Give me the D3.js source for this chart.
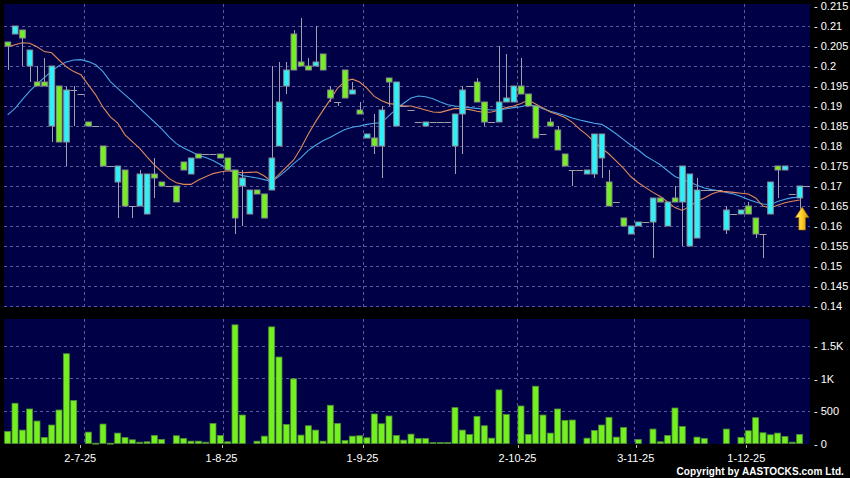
<!DOCTYPE html>
<html><head><meta charset="utf-8">
<script src="https://cdn.jsdelivr.net/npm/d3@7/dist/d3.min.js"></script>
<style>html,body{margin:0;padding:0;background:#000;}svg{display:block;}</style>
</head><body>
<script>
// ---- DATA ----
const opens  = [.206,.208,.209,.200,.196,.196,.185,.195,.181,.194,.193,.186,.185,.180,.175,.171,.174,.165,.165,.163,
 .173,.171,.170,.170,.176,.173,.178,.178,.178,.178,.177,.174,.170,.163,.169,.168,.169,.180,.195,.208,
 .201,.200,.200,.203,.194,.191,.199,.193,.189,.182,.182,.180,.197,.185,.190,.189,.186,.185,.186,.186,
 .186,.180,.188,.195,.196,.191,.186,.186,.191,.191,.195,.193,.190,.183,.186,.184,.178,.174,.174,.173,
 .173,.177,.171,.166,.162,.158,.160,.161,.161,.167,.160,.167,.166,.155,.157,.169,.169,.169,.159,.163,
 .163,.165,.162,.158,.163,.175,.174,.168,.167];
const highs  = [.206,.210,.209,.204,.200,.202,.200,.195,.195,.195,.193,.186,.185,.180,.175,.175,.174,.165,.174,.173,
 .177,.171,.170,.170,.176,.177,.178,.178,.178,.178,.177,.174,.174,.169,.169,.168,.200,.201,.201,.209,
 .212,.202,.210,.203,.195,.191,.199,.196,.191,.183,.188,.190,.197,.196,.190,.189,.186,.186,.186,.186,
 .186,.188,.195,.195,.197,.191,.186,.205,.203,.195,.202,.193,.190,.183,.187,.185,.178,.174,.174,.174,
 .183,.183,.174,.166,.162,.160,.161,.161,.167,.167,.166,.170,.175,.173,.172,.169,.169,.169,.165,.163,
 .164,.166,.162,.158,.171,.175,.175,.168,.170];
const lows   = [.199,.208,.200,.196,.195,.195,.181,.181,.175,.185,.193,.185,.185,.175,.175,.162,.165,.162,.165,.163,
 .167,.170,.170,.166,.174,.173,.177,.178,.178,.177,.174,.158,.160,.163,.168,.162,.169,.180,.193,.199,
 .200,.199,.200,.199,.191,.190,.192,.193,.188,.182,.178,.172,.190,.185,.190,.189,.186,.185,.186,.186,
 .186,.173,.178,.195,.191,.185,.186,.186,.191,.191,.193,.190,.182,.183,.185,.179,.175,.170,.174,.173,
 .172,.172,.165,.166,.160,.158,.160,.161,.152,.166,.160,.166,.155,.155,.157,.169,.169,.169,.158,.163,
 .163,.163,.157,.152,.163,.167,.174,.168,.164];
const closes = [.205,.210,.207,.204,.195,.195,.200,.181,.194,.194,.193,.185,.185,.175,.175,.175,.165,.165,.173,.173,
 .172,.170,.170,.166,.174,.177,.177,.178,.178,.177,.174,.162,.172,.169,.168,.162,.177,.191,.199,.199,
 .200,.199,.201,.199,.192,.191,.192,.194,.188,.183,.180,.189,.196,.196,.190,.189,.186,.186,.186,.186,
 .186,.188,.194,.195,.191,.186,.186,.191,.192,.195,.193,.190,.182,.183,.185,.179,.175,.174,.174,.174,
 .183,.183,.165,.166,.160,.160,.161,.161,.167,.166,.166,.166,.175,.173,.169,.169,.169,.169,.164,.163,
 .164,.163,.158,.158,.171,.174,.175,.168,.170];
const volumes = [186,619,206,531,345,93,284,515,1381,660,0,175,5,299,5,160,93,57,20,26,
 124,62,0,119,77,36,36,20,309,124,26,1825,438,0,36,113,1794,1330,294,995,
 129,273,206,36,588,309,46,113,119,88,454,304,423,124,52,144,77,77,15,15,
 15,552,206,139,418,273,82,825,448,0,577,139,881,438,160,531,356,361,0,82,
 201,284,402,98,247,0,62,0,222,26,124,546,263,0,98,77,0,0,222,0,
 93,196,397,165,134,160,108,20,139];
const maShort = [.2048,.2053,.2058,.2057,.2048,.2036,.2033,.2015,.1998,.1986,.1978,.1953,.1928,.1897,.1873,.1857,.1828,.1811,.1794,.1773,
 .1753,.1736,.1719,.1708,.1704,.1704,.1715,.1723,.1731,.1735,.1738,.1736,.1733,.1734,.1735,.1725,.1711,.1729,.1747,.1765,
 .1795,.1830,.1861,.1889,.1916,.1945,.1962,.1967,.1960,.1944,.1924,.1913,.1906,.1904,.1900,.1900,.1895,.1890,.1885,.1884,
 .1889,.1894,.1893,.1891,.1887,.1884,.1885,.1890,.1896,.1900,.1906,.1915,.1905,.1895,.1885,.1879,.1871,.1859,.1842,.1828,
 .1810,.1795,.1780,.1762,.1744,.1723,.1708,.1696,.1684,.1674,.1660,.1646,.1639,.1649,.1662,.1670,.1680,.1686,.1686,.1684,
 .1682,.1680,.1670,.1650,.1645,.1652,.1658,.1662,.1665];
const maLong = [.1878,.1894,.1916,.1937,.1955,.1971,.1987,.2001,.2010,.2015,.2016,.2011,.2003,.1986,.1961,.1944,.1928,.1912,.1894,.1877,
 .1860,.1843,.1823,.1806,.1795,.1786,.1777,.1771,.1764,.1754,.1744,.1734,.1726,.1723,.1720,.1716,.1711,.1724,.1739,.1756,
 .1771,.1789,.1802,.1813,.1822,.1832,.1841,.1847,.1850,.1854,.1857,.1858,.1876,.1892,.1907,.1920,.1925,.1923,.1918,.1910,
 .1903,.1900,.1898,.1896,.1894,.1892,.1890,.1890,.1893,.1896,.1898,.1903,.1900,.1893,.1887,.1882,.1876,.1870,.1865,.1861,
 .1857,.1854,.1843,.1830,.1816,.1802,.1790,.1775,.1764,.1753,.1738,.1724,.1716,.1710,.1702,.1695,.1691,.1688,.1684,.1680,
 .1674,.1666,.1660,.1655,.1653,.1661,.1667,.1671,.1672];
const monthLabels = ["2-7-25","1-8-25","1-9-25","2-10-25","3-11-25","1-12-25"];
const monthGridIdx  = [10.45,29.32,48.5,69.4,85.48,100.45];
const monthLabelIdx = [9.9,29.16,48.39,69.53,85.66,100.73];
const priceTicks = [0.14,0.145,0.15,0.155,0.16,0.165,0.17,0.175,0.18,0.185,0.19,0.195,0.2,0.205,0.21,0.215];
const priceTickLabels = ["0.14","0.145","0.15","0.155","0.16","0.165","0.17","0.175","0.18","0.185","0.19","0.195","0.2","0.205","0.21","0.215"];
const volTicks = [0,500,1000,1500];
const volTickLabels = ["0","500","1K","1.5K"];

// ---- LAYOUT ----
const W = 850, H = 478;
const plotL = 4, plotR = 810;
const pTop = 4, pBot = 307;
const vTop = 319, vBot = 444;
const NAVY = "#000046", GRID = "#5a5a9e";
const CYAN = "#2ef0f8", LIME = "#74f01e", WICK = "#a0a0a8", EDGE = "#8c8c94";
const FONT = "'Liberation Sans', Arial, sans-serif";

const svg = d3.select("body").append("svg").attr("width", W).attr("height", H)
  .style("background", "#000");

const n = closes.length;
const x = d3.scaleLinear().domain([0, n - 1]).range([7.67, 7.67 + 7.333 * (n - 1)]);
const y = d3.scaleLinear().domain([0.14, 0.215]).range([306, 6]);
const yv = d3.scaleLinear().domain([0, 1915]).range([443.5, 319]);

// panels
svg.append("rect").attr("x", plotL).attr("y", pTop).attr("width", plotR - plotL).attr("height", pBot - pTop).attr("fill", NAVY);
svg.append("rect").attr("x", plotL).attr("y", vTop).attr("width", plotR - plotL).attr("height", vBot - vTop).attr("fill", NAVY);

const grid = svg.append("g").attr("stroke", GRID).attr("stroke-width", 1).attr("stroke-dasharray", "3,3").attr("fill", "none");
priceTicks.filter(t => t < 0.2149).forEach(t => {
  const yy = Math.round(y(t)) + 0.5;
  grid.append("line").attr("x1", plotL).attr("x2", plotR).attr("y1", yy).attr("y2", yy);
});
volTicks.filter(t => t > 0).forEach(t => {
  const yy = Math.round(yv(t)) + 0.5;
  grid.append("line").attr("x1", plotL).attr("x2", plotR).attr("y1", yy).attr("y2", yy);
});
monthGridIdx.forEach(m => {
  const xx = Math.round(x(m)) + 0.5;
  grid.append("line").attr("x1", xx).attr("x2", xx).attr("y1", pTop).attr("y2", pBot);
  grid.append("line").attr("x1", xx).attr("x2", xx).attr("y1", vTop).attr("y2", vBot);
});

// volume bars
const idx = d3.range(n);
svg.append("g").selectAll("rect").data(idx.filter(i => volumes[i] > 0)).join("rect")
  .attr("x", i => x(i) - 3).attr("width", 6)
  .attr("y", i => yv(volumes[i])).attr("height", i => Math.max(1, yv(0) - yv(volumes[i])))
  .attr("fill", LIME).attr("stroke", "#4f8a3a").attr("stroke-width", 0.8);

// moving averages
const line = arr => d3.line().x((d, i) => x(i)).y(d => y(d))(arr);
svg.append("path").attr("d", line(maLong)).attr("fill", "none").attr("stroke", "#4aa6e6").attr("stroke-width", 1.1);
svg.append("path").attr("d", line(maShort)).attr("fill", "none").attr("stroke", "#e0885a").attr("stroke-width", 1.1);

// candles
const cg = svg.append("g");
cg.selectAll("line.w").data(idx.filter(i => highs[i] > lows[i])).join("line").attr("class", "w")
  .attr("x1", i => Math.round(x(i)) + 0.5).attr("x2", i => Math.round(x(i)) + 0.5)
  .attr("y1", i => y(highs[i])).attr("y2", i => y(lows[i]))
  .attr("stroke", WICK).attr("stroke-width", 1);
cg.selectAll("line.d").data(idx.filter(i => opens[i] === closes[i])).join("line").attr("class", "d")
  .attr("x1", i => x(i) - 3.5).attr("x2", i => x(i) + 3.5)
  .attr("y1", i => Math.round(y(closes[i])) + 0.5).attr("y2", i => Math.round(y(closes[i])) + 0.5)
  .attr("stroke", WICK).attr("stroke-width", 1);
cg.selectAll("rect").data(idx.filter(i => opens[i] !== closes[i])).join("rect")
  .attr("x", i => x(i) - 2.6).attr("width", 5.6)
  .attr("y", i => y(Math.max(opens[i], closes[i])))
  .attr("height", i => Math.abs(y(opens[i]) - y(closes[i])))
  .attr("fill", i => closes[i] > opens[i] ? CYAN : LIME)
  .attr("stroke", EDGE).attr("stroke-width", 1);

// last price line
const last = n - 1;
svg.append("line").attr("x1", x(last) + 3).attr("x2", plotR)
  .attr("y1", Math.round(y(closes[last])) + 0.5).attr("y2", Math.round(y(closes[last])) + 0.5)
  .attr("stroke", WICK).attr("stroke-width", 1);

// arrow marker under last candle
const defs = svg.append("defs");
const gr = defs.append("linearGradient").attr("id", "arw").attr("x1", "0").attr("x2", "1").attr("y1", "0").attr("y2", "0");
gr.append("stop").attr("offset", "0").attr("stop-color", "#ffe680");
gr.append("stop").attr("offset", "0.5").attr("stop-color", "#ffcc22");
gr.append("stop").attr("offset", "1").attr("stop-color", "#c88a00");
const ax = x(last) + 2.5, ay = y(lows[last]) - 3;
svg.append("path")
  .attr("d", `M${ax},${ay} L${ax + 6.8},${ay + 10.5} L${ax + 3.3},${ay + 10.5} L${ax + 3.3},${ay + 23} L${ax - 3.3},${ay + 23} L${ax - 3.3},${ay + 10.5} L${ax - 6.8},${ay + 10.5} Z`)
  .attr("fill", "url(#arw)").attr("stroke", "#a06a00").attr("stroke-width", 0.6);

// right axes
const pAxis = d3.axisRight(y).tickValues(priceTicks).tickSize(0).tickPadding(0)
  .tickFormat((d, i) => "- " + priceTickLabels[i]);
const pg = svg.append("g").attr("transform", `translate(${plotR + 4},0)`).call(pAxis);
const vAxis = d3.axisRight(yv).tickValues(volTicks).tickSize(0).tickPadding(0)
  .tickFormat((d, i) => "- " + volTickLabels[i]);
const vg = svg.append("g").attr("transform", `translate(${plotR + 4},0)`).call(vAxis);
[pg, vg].forEach(g => {
  g.select(".domain").remove();
  g.selectAll("text").attr("fill", "#fff").style("font-family", FONT).style("font-size", "11px");
});

// bottom axis (dates)
const xg = svg.append("g");
monthLabelIdx.forEach((m, i) => {
  const xx = Math.round(x(m)) + 0.5;
  xg.append("line").attr("x1", xx).attr("x2", xx).attr("y1", vBot + 1).attr("y2", vBot + 4).attr("stroke", "#bbb");
  xg.append("text").attr("x", x(m)).attr("y", 461.5).attr("text-anchor", "middle")
    .attr("fill", "#fff").style("font-family", FONT).style("font-size", "11px").text(monthLabels[i]);
});

svg.append("text").attr("x", 844).attr("y", 474.5).attr("text-anchor", "end")
  .attr("fill", "#fff").style("font-family", FONT).style("font-size", "10px").style("font-weight", "bold")
  .style("letter-spacing", "0.1px")
  .text("Copyright by AASTOCKS.com Ltd.");
</script>
</body></html>
